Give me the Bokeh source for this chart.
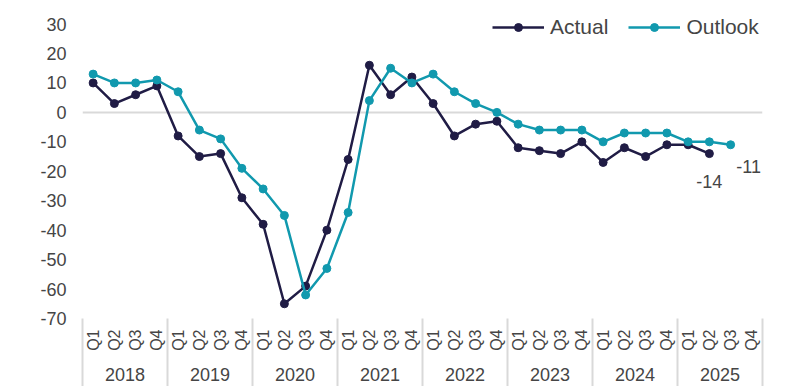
import numpy as np
from bokeh.plotting import figure
from bokeh.models import Range1d, LinearAxis, FixedTicker, Legend, LegendItem, ColumnDataSource
from bokeh.embed import file_html
from bokeh.resources import INLINE
from bokeh.core.properties import value

# ---- data ----
years = ["2018", "2019", "2020", "2021", "2022", "2023", "2024", "2025"]
quarters = ["Q1", "Q2", "Q3", "Q4"]
actual = [10, 3, 6, 9,
          -8, -15, -14, -29,
          -38, -65, -59, -40,
          -16, 16, 6, 12,
          3, -8, -4, -3,
          -12, -13, -14, -10,
          -17, -12, -15, -11,
          -11, -14]
outlook = [13, 10, 10, 11,
           7, -6, -9, -19,
           -26, -35, -62, -53,
           -34, 4, 15, 10,
           13, 7, 3, 0,
           -4, -6, -6, -6,
           -10, -7, -7, -7,
           -10, -10, -11]
y_ticks = [30, 20, 10, 0, -10, -20, -30, -40, -50, -60, -70]
y_tick_labels = ["30", "20", "10", "0", "-10", "-20", "-30", "-40", "-50", "-60", "-70"]

# ---- styling ----
FONT = "Liberation Sans"
TXT = "#454545"
C_ACT = "#201c45"
C_OUT = "#1199ae"
GRID = "#d9d9d9"
Y_HEADROOM = 8  # extra room above the top tick for the legend

nq = len(quarters)
n_periods = len(years) * nq
x_all = [i + 0.5 for i in range(n_periods)]

src_a = ColumnDataSource(dict(x=x_all[:len(actual)], y=actual))
src_o = ColumnDataSource(dict(x=x_all[:len(outlook)], y=outlook))

p = figure(width=788, height=386, output_backend="svg", toolbar_location=None,
           x_range=Range1d(0, n_periods),
           y_range=Range1d(min(y_ticks), max(y_ticks) + Y_HEADROOM),
           x_axis_location=None,
           min_border_left=82, min_border_right=26, min_border_top=0, min_border_bottom=68)
p.outline_line_color = None
p.background_fill_color = "white"
p.border_fill_color = "white"

# y axis
ya = p.yaxis[0]
ya.ticker = FixedTicker(ticks=y_ticks)
ya.major_label_overrides = dict(zip(y_ticks, y_tick_labels))
ya.axis_line_color = None
ya.major_tick_line_color = None
ya.minor_tick_line_color = None
ya.major_tick_out = 0
ya.minor_tick_out = 0
ya.major_label_standoff = 16
ya.major_label_text_font = FONT
ya.major_label_text_font_size = "18px"
ya.major_label_text_color = TXT

# grid: only zero line
p.xgrid.visible = False
p.ygrid.ticker = FixedTicker(ticks=[0])
p.ygrid.grid_line_color = GRID
p.ygrid.grid_line_width = 2

# quarter axis (with year separators as minor ticks)
boundaries = [i * nq for i in range(len(years) + 1)]
q_over = {x: quarters[i % nq] for i, x in enumerate(x_all)}
qaxis = LinearAxis(ticker=FixedTicker(ticks=x_all, minor_ticks=boundaries),
                   major_label_overrides=q_over,
                   major_label_orientation=np.pi / 2)
qaxis.axis_line_color = None
qaxis.major_tick_line_color = None
qaxis.major_tick_out = 0
qaxis.major_tick_in = 0
qaxis.minor_tick_in = 0
qaxis.minor_tick_out = 70
qaxis.minor_tick_line_color = GRID
qaxis.minor_tick_line_width = 2
qaxis.major_label_standoff = -59
qaxis.major_label_text_font = FONT
qaxis.major_label_text_font_size = "16px"
qaxis.major_label_text_color = TXT
p.add_layout(qaxis, "below")

# year axis
y_centers = [i * nq + nq / 2 for i in range(len(years))]
y_over = {x: years[i] for i, x in enumerate(y_centers)}
yraxis = LinearAxis(ticker=FixedTicker(ticks=y_centers, minor_ticks=[]),
                    major_label_overrides=y_over)
yraxis.axis_line_color = None
yraxis.major_tick_line_color = None
yraxis.minor_tick_line_color = None
yraxis.major_tick_out = 0
yraxis.major_tick_in = 0
yraxis.minor_tick_out = 0
yraxis.major_label_standoff = 14
yraxis.major_label_text_font = FONT
yraxis.major_label_text_font_size = "18px"
yraxis.major_label_text_color = TXT
p.add_layout(yraxis, "below")

# series
la = p.line("x", "y", source=src_a, line_color=C_ACT, line_width=2.5)
sa = p.scatter("x", "y", source=src_a, size=8, fill_color=C_ACT, line_color=C_ACT)
lo = p.line("x", "y", source=src_o, line_color=C_OUT, line_width=2.5)
so = p.scatter("x", "y", source=src_o, size=8, fill_color=C_OUT, line_color=C_OUT)

# end labels
p.text(x=[x_all[len(actual) - 1]], y=[actual[-1]], text=[str(actual[-1])],
       text_font=value(FONT), text_font_size="18px", text_color=TXT,
       text_align="center", text_baseline="middle", x_offset=0, y_offset=28)
p.text(x=[x_all[len(outlook) - 1]], y=[outlook[-1]], text=[str(outlook[-1])],
       text_font=value(FONT), text_font_size="18px", text_color=TXT,
       text_align="center", text_baseline="middle", x_offset=18, y_offset=22)

legend = Legend(items=[LegendItem(label="Actual", renderers=[la, sa]),
                       LegendItem(label="Outlook", renderers=[lo, so])],
                orientation="horizontal", location=(410, 279))
legend.border_line_color = None
legend.background_fill_alpha = 0
legend.padding = 0
legend.margin = 0
legend.spacing = 20
legend.glyph_width = 52
legend.glyph_height = 20
legend.label_standoff = 6
legend.label_text_font = FONT
legend.label_text_font_size = "21px"
legend.label_text_color = TXT
p.add_layout(legend, "center")

open("out.html", "w").write(file_html(p, INLINE))
